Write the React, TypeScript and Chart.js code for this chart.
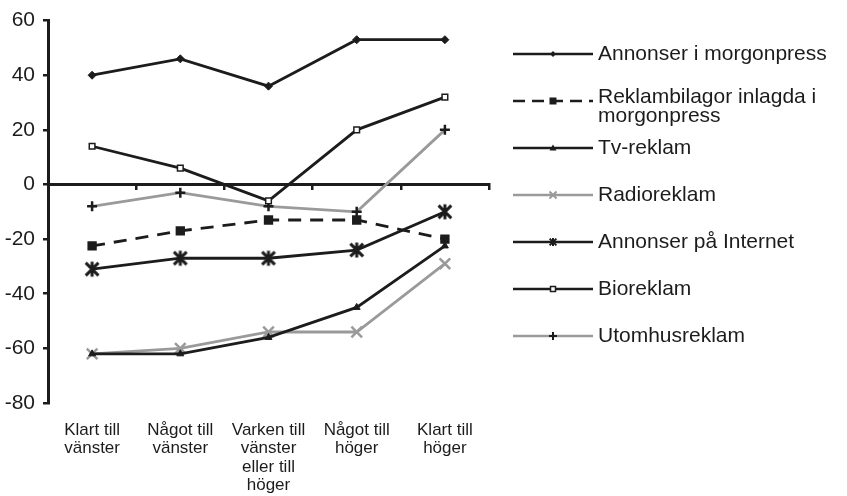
import React, { useEffect, useRef } from 'react';
import { Chart, registerables } from 'chart.js';

Chart.register(...registerables);

// ---- data ----
const categories: string[][] = [
  ['Klart till', 'vänster'],
  ['Något till', 'vänster'],
  ['Varken till', 'vänster', 'eller till', 'höger'],
  ['Något till', 'höger'],
  ['Klart till', 'höger'],
];

const seriesNames = [
  'Annonser i morgonpress',
  'Reklambilagor inlagda i morgonpress',
  'Tv-reklam',
  'Radioreklam',
  'Annonser på Internet',
  'Bioreklam',
  'Utomhusreklam',
];

const annonserMorgonpress = [40, 46, 36, 53, 53];
const reklambilagor = [-22.5, -17, -13, -13, -20];
const tvReklam = [-62, -62, -56, -45, -22.5];
const radioReklam = [-62, -60, -54, -54, -29];
const annonserInternet = [-31, -27, -27, -24, -10];
const bioReklam = [14, 6, -6, 20, 32];
const utomhusReklam = [-8, -3, -8, -10, 20];

const yMin = -80;
const yMax = 60;
const yStep = 20;

// ---- styles ----
const BLACK = '#1c1c1c';
const GREY = '#9a9a9a';
const FONT = '"Liberation Sans", Arial, Helvetica, sans-serif';

function makeStar(size: number, lw: number, color: string) {
  const c = document.createElement('canvas');
  c.width = size;
  c.height = size;
  const g = c.getContext('2d')!;
  g.strokeStyle = color;
  g.lineWidth = lw;
  const m = size / 2;
  const r = size / 2 - 1.5;
  const d = r * 0.85;
  g.beginPath();
  g.moveTo(m, m - r);
  g.lineTo(m, m + r);
  g.moveTo(m - d, m - d);
  g.lineTo(m + d, m + d);
  g.moveTo(m - d, m + d);
  g.lineTo(m + d, m - d);
  g.stroke();
  return c;
}

type Kind = 'diamond' | 'square' | 'triangle' | 'x' | 'star' | 'hollow' | 'plus';

function drawMarker(ctx: CanvasRenderingContext2D, kind: Kind, x: number, y: number, s: number, color: string) {
  ctx.save();
  ctx.fillStyle = color;
  ctx.strokeStyle = color;
  ctx.lineWidth = 2;
  ctx.beginPath();
  if (kind === 'diamond') {
    ctx.moveTo(x, y - s);
    ctx.lineTo(x + s, y);
    ctx.lineTo(x, y + s);
    ctx.lineTo(x - s, y);
    ctx.closePath();
    ctx.fill();
  } else if (kind === 'square') {
    ctx.rect(x - s, y - s, 2 * s, 2 * s);
    ctx.fill();
  } else if (kind === 'triangle') {
    ctx.moveTo(x, y - s);
    ctx.lineTo(x + s, y + s * 0.7);
    ctx.lineTo(x - s, y + s * 0.7);
    ctx.closePath();
    ctx.fill();
  } else if (kind === 'x') {
    ctx.moveTo(x - s, y - s);
    ctx.lineTo(x + s, y + s);
    ctx.moveTo(x - s, y + s);
    ctx.lineTo(x + s, y - s);
    ctx.stroke();
  } else if (kind === 'star') {
    ctx.moveTo(x, y - s);
    ctx.lineTo(x, y + s);
    ctx.moveTo(x - s * 0.85, y - s * 0.85);
    ctx.lineTo(x + s * 0.85, y + s * 0.85);
    ctx.moveTo(x - s * 0.85, y + s * 0.85);
    ctx.lineTo(x + s * 0.85, y - s * 0.85);
    ctx.stroke();
  } else if (kind === 'hollow') {
    ctx.fillStyle = '#fff';
    ctx.lineWidth = 1.5;
    ctx.rect(x - s, y - s, 2 * s, 2 * s);
    ctx.fill();
    ctx.stroke();
  } else if (kind === 'plus') {
    ctx.moveTo(x - s, y);
    ctx.lineTo(x + s, y);
    ctx.moveTo(x, y - s);
    ctx.lineTo(x, y + s);
    ctx.stroke();
  }
  ctx.restore();
}

const legendKinds: Kind[] = ['diamond', 'square', 'triangle', 'x', 'star', 'hollow', 'plus'];
const legendMarkerSize = [3, 3.5, 3.5, 3.5, 4, 2.5, 4];
const legendMarkerColor = [BLACK, BLACK, BLACK, GREY, BLACK, BLACK, BLACK];

const sideLegend = {
  id: 'sideLegend',
  afterDraw(chart: any) {
    const ctx: CanvasRenderingContext2D = chart.ctx;
    const area = chart.chartArea;
    const x0 = area.right + 24;
    const x1 = x0 + 80;
    const tx = x1 + 5;
    const top = 54;
    const gap = 47;
    const fontSize = 21;
    const lh = 18.5;
    const maxW = 240;
    ctx.save();
    ctx.font = `${fontSize}px ${FONT}`;
    chart.data.datasets.forEach((ds: any, i: number) => {
      const y = top + i * gap;
      ctx.save();
      ctx.strokeStyle = ds.borderColor;
      ctx.lineWidth = 2.5;
      ctx.setLineDash(ds.borderDash ? [12, 7] : []);
      ctx.beginPath();
      ctx.moveTo(x0, y);
      ctx.lineTo(x1, y);
      ctx.stroke();
      ctx.restore();
      drawMarker(ctx, legendKinds[i], (x0 + x1) / 2, y, legendMarkerSize[i], legendMarkerColor[i]);
      const words = String(ds.label).split(' ');
      const lines: string[] = [];
      let cur = '';
      words.forEach((w) => {
        const t = cur ? cur + ' ' + w : w;
        if (ctx.measureText(t).width > maxW && cur) {
          lines.push(cur);
          cur = w;
        } else cur = t;
      });
      if (cur) lines.push(cur);
      ctx.fillStyle = BLACK;
      ctx.textBaseline = 'middle';
      ctx.textAlign = 'left';
      const startY = lines.length > 1 ? y - 3.5 : y;
      lines.forEach((ln, k) => ctx.fillText(ln, tx, startY + k * lh));
    });
    ctx.restore();
  },
};

export default function App() {
  const ref = useRef<HTMLCanvasElement>(null);
  useEffect(() => {
    if (!ref.current) return;
    const star = makeStar(18, 3, BLACK);
    const common = { borderWidth: 2.8, pointBorderWidth: 2.5, tension: 0 };
    const chart = new Chart(ref.current, {
      type: 'line',
      data: {
        labels: categories,
        datasets: [
          { ...common, label: seriesNames[0], data: annonserMorgonpress, borderColor: BLACK, backgroundColor: BLACK, pointStyle: 'rectRot', pointRadius: 4, pointBorderWidth: 1 },
          { ...common, label: seriesNames[1], data: reklambilagor, borderColor: BLACK, backgroundColor: BLACK, borderDash: [13, 9], pointStyle: 'rect', pointRadius: 6.6, pointBorderWidth: 0 },
          { ...common, label: seriesNames[2], data: tvReklam, borderColor: BLACK, backgroundColor: BLACK, pointStyle: 'triangle', pointRadius: 4, pointBorderWidth: 1 },
          { ...common, label: seriesNames[3], data: radioReklam, borderColor: GREY, backgroundColor: GREY, pointStyle: 'crossRot', pointRadius: 7.5 },
          { ...common, label: seriesNames[4], data: annonserInternet, borderColor: BLACK, backgroundColor: BLACK, pointStyle: star as any, pointRadius: 7.5 },
          { ...common, label: seriesNames[5], data: bioReklam, borderColor: BLACK, backgroundColor: '#ffffff', pointStyle: 'rect', pointRadius: 4, pointBorderWidth: 1.5, pointBorderColor: BLACK },
          { ...common, label: seriesNames[6], data: utomhusReklam, borderColor: GREY, backgroundColor: BLACK, pointBorderColor: BLACK, pointStyle: 'cross', pointRadius: 5 },
        ],
      },
      options: {
        responsive: false,
        animation: false,
        layout: { padding: { top: 20, right: 847 - 489, bottom: 0, left: 0 } },
        plugins: { legend: { display: false }, tooltip: { enabled: false } },
        scales: {
          x: {
            type: 'category',
            offset: true,
            position: 'bottom',
            grid: { display: false, drawTicks: false },
            border: { display: false },
            ticks: {
              color: BLACK,
              font: { family: FONT, size: 17, lineHeight: 1.08 },
              padding: 18,
              maxRotation: 0,
              autoSkip: false,
            },
            afterFit: (s: any) => { s.height = 93; },
          },
          x2: {
            type: 'category',
            labels: categories as any,
            offset: true,
            position: { y: 0 } as any,
            grid: { display: true, drawOnChartArea: false, drawTicks: true, tickLength: 4, offset: true, color: BLACK, lineWidth: 2.5 },
            border: { display: true, color: BLACK, width: 3 },
            ticks: { display: false },
          },
          y: {
            min: yMin,
            max: yMax,
            position: 'left',
            grid: { display: true, drawOnChartArea: false, drawTicks: true, tickLength: 5, color: BLACK, lineWidth: 2.5 },
            border: { display: true, color: BLACK, width: 3 },
            ticks: { stepSize: yStep, color: BLACK, font: { family: FONT, size: 21 }, padding: 8 },
            afterFit: (s: any) => { s.width = 48; },
          },
        },
      },
      plugins: [sideLegend],
    });
    return () => chart.destroy();
  }, []);
  return (
    <div style={{ position: 'fixed', left: 0, top: 0, width: 847, height: 496, background: '#fff' }}>
      <canvas ref={ref} width={847} height={496} />
    </div>
  );
}
